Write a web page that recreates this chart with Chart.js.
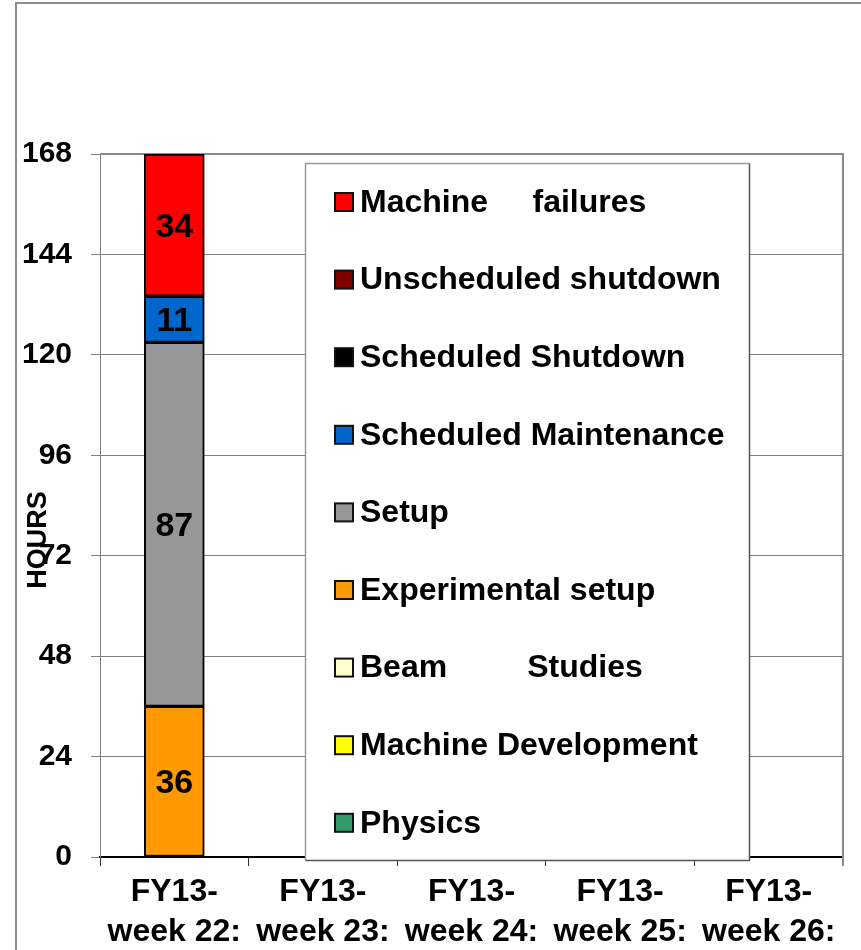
<!DOCTYPE html>
<html lang="en">
<head>
<meta charset="UTF-8">
<title>Hours per week</title>
<style>
  body { margin: 0; background: #fff; }
  canvas { display: block; }
</style>
</head>
<body>
<canvas id="myCanvas" width="861" height="950"></canvas>
<script src="https://cdn.jsdelivr.net/npm/chart.js@4.4.0/dist/chart.umd.min.js"></script>
<script>
// categories
const weeks = [
  ['FY13-', 'week 22:'],
  ['FY13-', 'week 23:'],
  ['FY13-', 'week 24:'],
  ['FY13-', 'week 25:'],
  ['FY13-', 'week 26:']
];
const yMax = 168;
const yStep = 24;

// series, bottom of the stack first (legend shows them reversed)
const seriesNames = [
  'Physics',
  'Machine Development',
  'Beam         Studies',
  'Experimental setup',
  'Setup',
  'Scheduled Maintenance',
  'Scheduled Shutdown',
  'Unscheduled shutdown',
  'Machine     failures'
];
const seriesColors = ['#339966', '#FFFF00', '#FFFFCC', '#FF9900', '#969696', '#0066CC', '#000000', '#800000', '#FF0000'];

const physics              = [0, null, null, null, null];
const machineDevelopment   = [0, null, null, null, null];
const beamStudies          = [0, null, null, null, null];
const experimentalSetup    = [36, null, null, null, null];
const setup                = [87, null, null, null, null];
const scheduledMaintenance = [11, null, null, null, null];
const scheduledShutdown    = [0, null, null, null, null];
const unscheduledShutdown  = [0, null, null, null, null];
const machineFailures      = [34, null, null, null, null];

const seriesValues = [physics, machineDevelopment, beamStudies, experimentalSetup, setup,
  scheduledMaintenance, scheduledShutdown, unscheduledShutdown, machineFailures];

const FONT = "'Liberation Sans', Arial, sans-serif";

const datasets = seriesNames.map((name, i) => ({
  label: name,
  data: seriesValues[i],
  backgroundColor: seriesColors[i],
  borderColor: '#000',
  borderWidth: 2,
  borderSkipped: false,
  barThickness: 60
}));

// frame, legend box, axis title and value labels
const decorations = {
  id: 'decorations',
  beforeDraw(chart) {
    const ctx = chart.ctx;
    ctx.save();
    ctx.fillStyle = '#fff';
    ctx.fillRect(0, 0, chart.width, chart.height);
    ctx.strokeStyle = '#8c8c8c';
    ctx.lineWidth = 2;
    ctx.strokeRect(16, 3, 900, 1000);
    ctx.restore();
  },
  beforeDatasetsDraw(chart) {
    const ctx = chart.ctx;
    const a = chart.chartArea;
    ctx.save();
    ctx.strokeStyle = '#8c8c8c';
    ctx.lineWidth = 2;
    ctx.beginPath();
    ctx.moveTo(a.left, a.top);
    ctx.lineTo(a.right, a.top);
    ctx.lineTo(a.right, a.bottom + 9);
    ctx.stroke();
    ctx.restore();
  },
  afterDatasetsDraw(chart) {
    const ctx = chart.ctx;
    ctx.save();
    ctx.font = 'bold 34px ' + FONT;
    ctx.fillStyle = '#000';
    ctx.textAlign = 'center';
    ctx.textBaseline = 'middle';
    chart.data.datasets.forEach((ds, i) => {
      chart.getDatasetMeta(i).data.forEach((bar, j) => {
        const v = ds.data[j];
        if (!v) return;
        ctx.fillText(String(v), bar.x, (bar.y + bar.base) / 2 + 2);
      });
    });
    ctx.restore();
  },
  afterDraw(chart) {
    const ctx = chart.ctx;
    ctx.save();

    // y axis title
    ctx.font = 'bold 27px ' + FONT;
    ctx.fillStyle = '#000';
    ctx.textAlign = 'center';
    ctx.textBaseline = 'middle';
    ctx.translate(39, 540);
    ctx.rotate(-Math.PI / 2);
    ctx.fillText('HOURS', 0, 0);
    ctx.setTransform(1, 0, 0, 1, 0, 0);

    // legend box
    const bx = 305.5, by = 163.5, bw = 444, bh = 697;
    ctx.fillStyle = '#fff';
    ctx.fillRect(bx, by, bw, bh);
    ctx.lineWidth = 1.5;
    ctx.strokeStyle = '#9a9a9a';
    ctx.beginPath();
    ctx.moveTo(bx, by + bh);
    ctx.lineTo(bx, by);
    ctx.lineTo(bx + bw, by);
    ctx.stroke();
    ctx.strokeStyle = '#555';
    ctx.beginPath();
    ctx.moveTo(bx + bw, by);
    ctx.lineTo(bx + bw, by + bh);
    ctx.lineTo(bx, by + bh);
    ctx.stroke();

    const items = chart.data.datasets.slice().reverse();
    ctx.font = 'bold 32px ' + FONT;
    ctx.textAlign = 'left';
    ctx.textBaseline = 'middle';
    items.forEach((ds, i) => {
      const cy = 202 + i * 77.6;
      ctx.fillStyle = ds.backgroundColor;
      ctx.fillRect(335, cy - 9, 18, 18);
      ctx.strokeStyle = '#111';
      ctx.lineWidth = 2;
      ctx.strokeRect(335, cy - 9, 18, 18);
      ctx.fillStyle = '#000';
      ctx.fillText(ds.label, 360, cy + 1);
    });
    ctx.restore();
  }
};

new Chart(document.getElementById('myCanvas'), {
  type: 'bar',
  data: { labels: weeks, datasets: datasets },
  options: {
    responsive: false,
    animation: false,
    devicePixelRatio: 1,
    layout: { padding: { top: 154, right: 18, bottom: 0, left: 0 } },
    plugins: {
      legend: { display: false },
      tooltip: { enabled: false }
    },
    scales: {
      x: {
        stacked: true,
        offset: true,
        grid: { drawOnChartArea: false, tickLength: 9, color: '#333', lineWidth: 1 },
        border: { color: '#000', width: 2 },
        ticks: {
          color: '#000',
          font: { family: FONT, size: 32, weight: 'bold', lineHeight: 1.25 },
          padding: 6,
          maxRotation: 0,
          autoSkip: false
        },
        afterFit(scale) { scale.height = 93; }
      },
      y: {
        stacked: true,
        min: 0,
        max: yMax,
        grid: { color: '#808080', lineWidth: 1, tickLength: 9 },
        border: { color: '#808080', width: 1 },
        ticks: {
          stepSize: yStep,
          color: '#000',
          font: { family: FONT, size: 30, weight: 'bold' },
          padding: 19
        },
        afterFit(scale) { scale.width = 100; }
      }
    }
  },
  plugins: [decorations]
});
</script>
</body>
</html>
